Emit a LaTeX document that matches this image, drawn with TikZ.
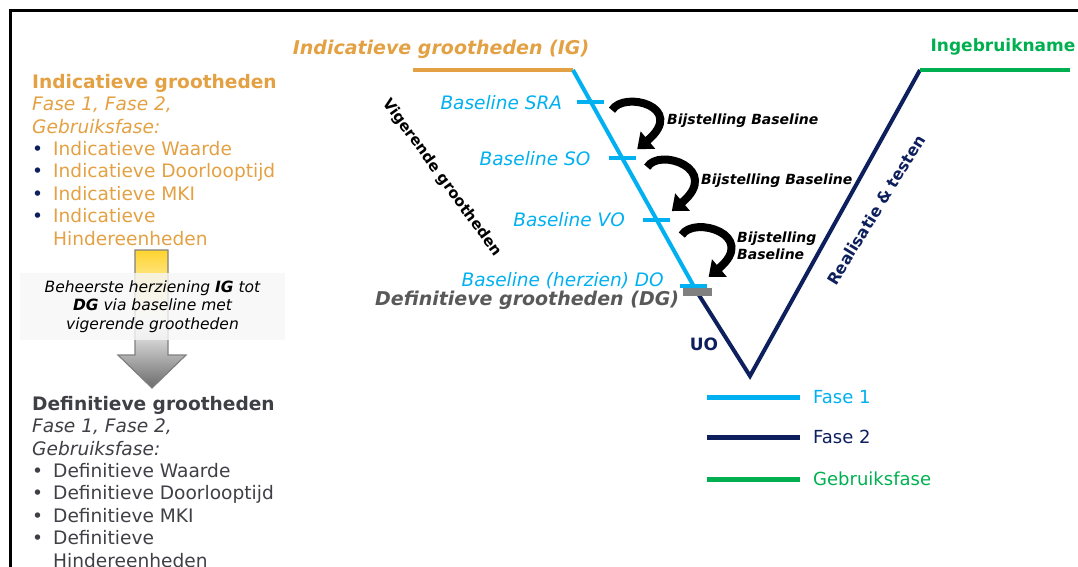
\documentclass[tikz,border=0pt]{standalone}
\usepackage{fontspec}
\setmainfont{DejaVu Sans}
\setsansfont{DejaVu Sans}
\usepackage{tikz}
\usepackage{xcolor}
\usetikzlibrary{arrows.meta,positioning,calc}
\definecolor{igcol}{HTML}{E3A143}
\definecolor{fase1}{HTML}{00B0F0}
\definecolor{fase2}{HTML}{0D1F5C}
\definecolor{gebruik}{HTML}{00B050}
\definecolor{dgcol}{HTML}{595959}
\definecolor{defcol}{HTML}{3F3F46}
\definecolor{barcol}{HTML}{808080}
\definecolor{arrowtop}{HTML}{FFD42F}
\definecolor{arrowbot}{HTML}{6B6B6B}
\definecolor{boxfill}{HTML}{F6F6F6}
\newcommand{\fs}[2]{\fontsize{#1bp}{#2bp}\selectfont}
\newcommand{\bul}[1]{\makebox[21bp][l]{\textcolor{#1}{\textbullet}}}

\begin{document}
\begin{tikzpicture}[x=1bp, y=-1bp,
  lbl/.style={inner sep=0pt, font=\fs{18.5}{22}\itshape, text=fase1},
  hdr/.style={inner sep=0pt, font=\fs{19}{23}\bfseries\itshape},
  colblock/.style={inner sep=0pt, align=left, anchor=north west, font=\fs{18.6}{22.4}},
  tickmark/.style={fill=fase1, inner sep=0pt, minimum width=27bp, minimum height=4bp},
  bijarr/.style={line width=8bp, -{Triangle[width=22bp,length=14bp]}},
  bij/.style={inner sep=0pt, font=\fs{14}{17}\bfseries\itshape, align=left, anchor=west},
  vline/.style={line width=4bp},
  legline/.style={line width=5bp},
  legtxt/.style={inner sep=0pt, anchor=west, font=\fs{18}{20}},
]
\useasboundingbox (0,0) rectangle (1078,567);
\draw[line width=3bp] (10.5,567) -- (10.5,10.5) -- (1078,10.5);

% the V
\coordinate (igstart) at (413,70);
\coordinate (igend) at (573,70);
\coordinate (dgend) at (697,292);
\coordinate (uo) at (750,376);
\coordinate (ibstart) at (920,70);
\coordinate (ibend) at (1070,70);
\draw[vline, igcol] (igstart) -- (igend);
\draw[vline, fase1] (igend) -- (dgend);
\draw[vline, fase2] (dgend) -- (uo) -- (ibstart);
\draw[vline, gebruik] (ibstart) -- (ibend);

\path (igend) -- (dgend)
  node[tickmark, pos=0.145] (t1) {}
  node[tickmark, pos=0.397] (t2) {}
  node[tickmark, pos=0.676] (t3) {}
  node[tickmark, pos=0.973] (t4) {};
\node[fill=barcol, inner sep=0pt, minimum width=29bp, minimum height=8bp] (dgbar) at (dgend) {};

\node[lbl, left=15bp of t1] (bsra) {Baseline SRA};
\node[lbl, left=18bp of t2] (bso) {Baseline SO};
\node[lbl, left=18bp of t3] (bvo) {Baseline VO};
\node[lbl, left=16bp of t4, yshift=5bp] (bdo) {Baseline (herzien) DO};
\node[hdr, text=dgcol, left=3bp of dgbar, yshift=-8bp] (dglbl) {Definitieve grootheden (DG)};

\node[hdr, text=igcol] (iglbl) at (441,49) {Indicatieve grootheden (IG)};
\node[inner sep=0pt, font=\fs{17}{20}\bfseries, text=gebruik] (iblbl) at (1003,47) {Ingebruikname};
\node[rotate=-54, inner sep=0pt, font=\fs{15}{18}\bfseries] (vig) at (442,178) {Vigerende grootheden};
\node[rotate=58.5, inner sep=0pt, font=\fs{16}{19}\bfseries, text=fase2] (real) at (876,210) {Realisatie \& testen};
\node[inner sep=0pt, font=\fs{17}{20}\bfseries, text=fase2] (uolbl) at (704,344) {UO};

% bijstelling arrows
\foreach \i/\j/\dx/\dy in {1/2/21/8, 2/3/25/9, 3/4/25/15}
  \draw[bijarr] ([shift={(\dx,\dy)}]t\i.center) .. controls +(12,-20) and +(50,-42) .. ([shift={(15,-9)}]t\j.center);
\node[bij] (bij1) at (667,121) {Bijstelling Baseline};
\node[bij] (bij2) at (701,181) {Bijstelling Baseline};
\node[bij] (bij3) at (737,246) {Bijstelling\\Baseline};

% left column
\node[colblock, text=igcol] (indi) at (32,74) {\textbf{Indicatieve grootheden}\\
  \textit{Fase 1, Fase 2,}\\ \textit{Gebruiksfase:}\\
  \bul{fase2}Indicatieve Waarde\\ \bul{fase2}Indicatieve Doorlooptijd\\
  \bul{fase2}Indicatieve MKI\\ \bul{fase2}Indicatieve\\ \hspace*{21bp}Hindereenheden};
\path[top color=arrowtop, bottom color=arrowbot, middle color=white, draw=barcol, line width=1.2bp]
  (135,250) -- (168,250) -- (168,355) -- (186,355) -- (152,388) -- (118,355) -- (135,355) -- cycle;
\node[fill=boxfill, fill opacity=0.8, text opacity=1, minimum width=265bp, minimum height=67bp,
  inner sep=0pt, align=center, font=\fs{15.5}{18.5}\itshape] (herz) at (152.5,306.5)
  {Beheerste herziening \textbf{IG} tot\\ \textbf{DG} via baseline met\\ vigerende grootheden};
\node[colblock, text=defcol] (defi) at (32,396) {\textbf{Definitieve grootheden}\\
  \textit{Fase 1, Fase 2,}\\ \textit{Gebruiksfase:}\\
  \bul{defcol}Definitieve Waarde\\ \bul{defcol}Definitieve Doorlooptijd\\
  \bul{defcol}Definitieve MKI\\ \bul{defcol}Definitieve\\ \hspace*{21bp}Hindereenheden};

% legend
\node[legtxt, text=fase1] (lf1) at (813,397) {Fase 1};
\node[legtxt, text=fase2] (lf2) at (813,437) {Fase 2};
\node[legtxt, text=gebruik] (lf3) at (813,479) {Gebruiksfase};
\draw[legline, fase1] ([xshift=-13bp]lf1.west) -- +(-93,0);
\draw[legline, fase2] ([xshift=-13bp]lf2.west) -- +(-93,0);
\draw[legline, gebruik] ([xshift=-13bp]lf3.west) -- +(-93,0);
\end{tikzpicture}
\end{document}
